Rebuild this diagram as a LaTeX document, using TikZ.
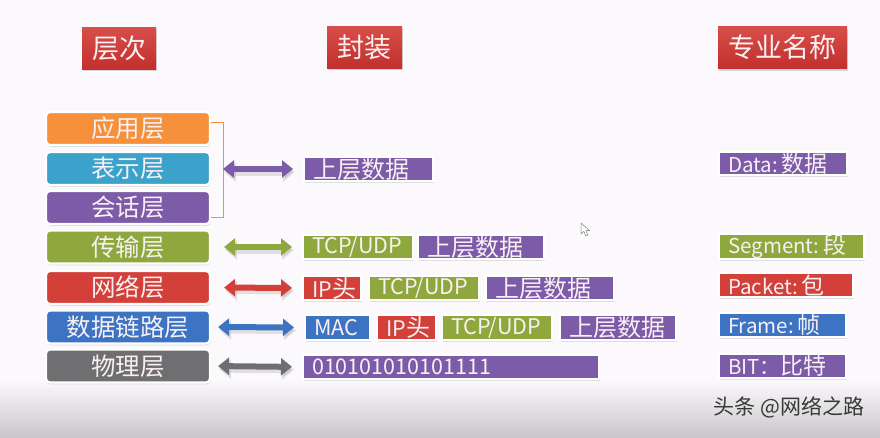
\documentclass[tikz,border=0pt]{standalone}
\usepackage{fontspec}
\setmainfont{Noto Sans CJK SC}
\usetikzlibrary{arrows.meta,shadows,calc}

\definecolor{bgc}{HTML}{FCF9FC}
\definecolor{bgb}{HTML}{C9C7CB}
\definecolor{hdred}{HTML}{D33B36}
\definecolor{hdredd}{HTML}{C22F2C}
\definecolor{corange}{HTML}{F7903A}
\definecolor{ccyan}{HTML}{3BA3CB}
\definecolor{cpurple}{HTML}{7C5BA8}
\definecolor{cgreen}{HTML}{8FA83E}
\definecolor{cred}{HTML}{D3403A}
\definecolor{cblue}{HTML}{3C73C3}
\definecolor{cgray}{HTML}{6F6E70}
\definecolor{ink}{HTML}{F8F0F2}

% larger setting for Chinese words inside the small boxes
\newcommand\zhbig[1]{{\fontsize{24}{25}\selectfont #1}}
\newcommand\zhmid[1]{{\fontsize{23}{24}\selectfont #1}}

\tikzset{
  header/.style={top color=hdred!90!white, bottom color=hdredd, draw=none,
    minimum height=42pt, inner sep=0pt, text=ink,
    font=\fontsize{27}{30}\selectfont,
    drop shadow={opacity=0.3, shadow xshift=1pt, shadow yshift=-2pt}},
  layer/.style={fill=#1, draw=white, line width=2.2pt, rounded corners=4pt,
    minimum width=164pt, minimum height=33pt, inner sep=0pt, text=ink,
    font=\fontsize{24.5}{26}\selectfont,
    drop shadow={opacity=0.25, shadow xshift=0.8pt, shadow yshift=-1.8pt}},
  seg/.style={fill=#1, draw=white, line width=2.2pt, anchor=west,
    minimum height=24.5pt, inner xsep=9pt, inner ysep=0pt, align=left, text=ink,
    font=\fontsize{21.5}{23}\selectfont,
    drop shadow={opacity=0.22, shadow xshift=0.8pt, shadow yshift=-1.8pt}},
  term/.style={fill=#1, draw=white, line width=2.2pt, anchor=west,
    minimum height=23.5pt, inner xsep=9pt, inner ysep=0pt, align=left, text=ink,
    font=\fontsize{20.5}{22}\selectfont,
    drop shadow={opacity=0.22, shadow xshift=0.8pt, shadow yshift=-1.8pt}},
  brk/.style={draw=corange, line width=0.8pt},
  dbl/.style={line width=6pt, draw=#1,
    {Triangle[width=17pt,length=11pt]}-{Triangle[width=17pt,length=11pt]}},
  dblshade/.style={line width=7pt, draw=black, opacity=0.10,
    {Triangle[width=19pt,length=12pt]}-{Triangle[width=19pt,length=12pt]}},
}

\begin{document}
\begin{tikzpicture}[x=1pt,y=-1pt]
  % page and lower grey fade
  \fill[bgc] (0,0) rectangle (880,437);
  \shade[top color=bgc, bottom color=bgb] (0,380) rectangle (880,437);
  \useasboundingbox (0,0) rectangle (880,437);

  % column headers
  \node[header, minimum width=74pt]  (h1) at (119,48)   {层次};
  \node[header, minimum width=75pt]  (h2) at (364.5,47) {封装};
  \node[header, minimum width=129pt] (h3) at (782.5,47.5) {专业名称};

  % protocol layers
  \node[layer=corange] (app) at (128,128.5) {应用层};
  \node[layer=ccyan]   (pre) at (128,168.5) {表示层};
  \node[layer=cpurple] (ses) at (128,207.5) {会话层};
  \node[layer=cgreen]  (tra) at (128,247)   {传输层};
  \node[layer=cred]    (net) at (128,287.5) {网络层};
  \node[layer=cblue]   (lnk) at (128,327)   {数据链路层};
  \node[layer=cgray]   (phy) at (128,366)   {物理层};

  % bracket grouping the upper three layers
  \coordinate (bt) at ([yshift=6.5pt]app.east);
  \coordinate (bb) at ([yshift=-9.5pt]ses.east);
  \draw[brk] (bt) -- ++(12,0) |- (bb);
  \coordinate (bm) at (222,169);

  % encapsulation rows
  \node[seg=cpurple, text width=111pt] (d1) at (303,169) {\zhbig{上层数据}};

  \node[seg=cgreen,  text width=92pt]  (t1) at (302,247) {TCP/UDP};
  \node[seg=cpurple, text width=108pt] (d2) at (417,247) {\zhbig{上层数据}};

  \node[seg=cred,    text width=40pt]  (i1) at (302,288) {IP\zhbig{头}};
  \node[seg=cgreen,  text width=92pt]  (t2) at (368,288) {TCP/UDP};
  \node[seg=cpurple, text width=110pt] (d3) at (485,288) {\zhbig{上层数据}};

  \node[seg=cblue,   text width=47pt]  (m1) at (304,327.5) {MAC};
  \node[seg=cred,    text width=41pt]  (i2) at (376,327.5) {IP\zhbig{头}};
  \node[seg=cgreen,  text width=92pt]  (t3) at (441,327.5) {TCP/UDP};
  \node[seg=cpurple, text width=98pt]  (d4) at (559,327.5) {\zhbig{上层数据}};

  \node[seg=cpurple, text width=278pt] (b1) at (302,367) {010101010101111};

  % arrows between layers and their data units
  \foreach \s/\t/\c/\a in {tra/t1/cgreen/13, net/i1/cred/13,
                           lnk/m1/cblue/7, phy/b1/cgray/7}{
    \draw[dblshade, shorten <=\a pt, shorten >=9pt]
      ([shift={(1pt,-3pt)}]\s.east) -- ([shift={(1pt,-3pt)}]\t.west);
    \draw[dbl=\c, shorten <=\a pt, shorten >=10pt] (\s.east) -- (\t.west);
  }
  \draw[dblshade, shorten <=1pt, shorten >=9pt]
    ([shift={(1pt,-3pt)}]bm) -- ([shift={(1pt,-3pt)}]d1.west);
  \draw[dbl=cpurple, shorten <=1pt, shorten >=10pt] (bm) -- (d1.west);

  % technical names
  \node[term=cpurple, text width=110pt] (n1) at (718,163.5) {Data:\,\zhmid{数据}};
  \node[term=cgreen,  text width=127pt] (n2) at (718,246.5) {Segment:\,\zhmid{段}};
  \node[term=cred,    text width=116pt] (n3) at (718,285)   {Packet:\,\zhmid{包}};
  \node[term=cblue,   text width=109pt] (n4) at (718,325)   {Frame:\,\zhmid{帧}};
  \node[term=cpurple, text width=109pt] (n5) at (718,366)   {BIT：\zhmid{比特}};

  % pointer
  \draw[gray, fill=white, line width=0.5pt, line join=round]
    (581,223) -- (581,234) -- (583.8,231.4) -- (585.8,236) -- (587.8,235.2)
    -- (585.9,230.6) -- (589.6,230.6) -- cycle;

  % credit line
  \node[anchor=west, text=black!78, font=\fontsize{21}{22}\selectfont] (wm)
    at (710,407) {头条 @网络之路};
\end{tikzpicture}
\end{document}
